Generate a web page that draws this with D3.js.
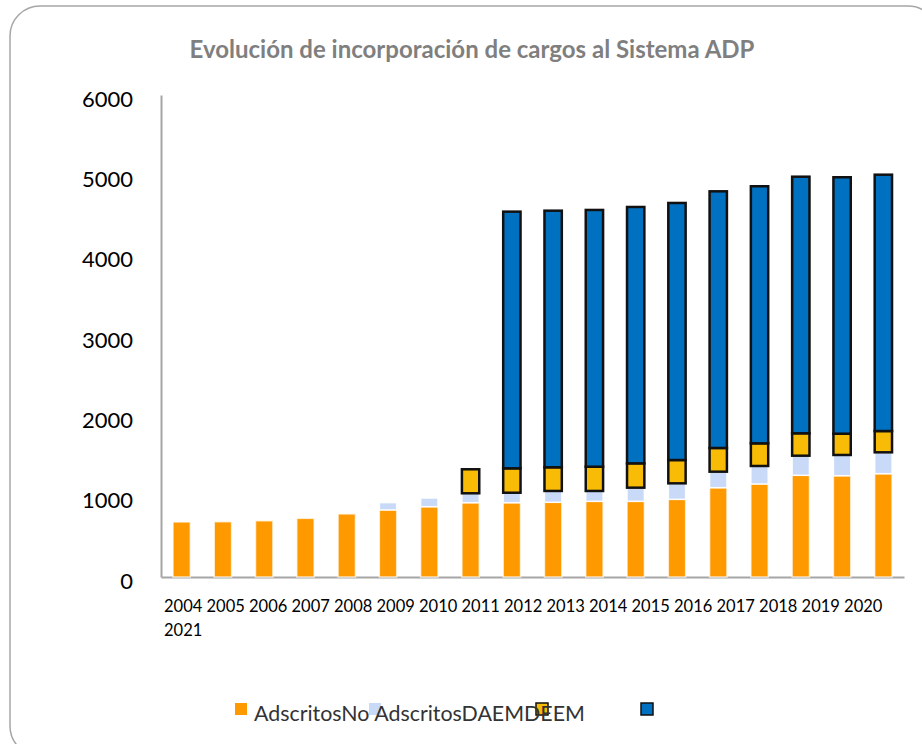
<!DOCTYPE html>
<html>
<head>
<meta charset="utf-8">
<script src="https://cdn.jsdelivr.net/npm/d3@7"></script>
<style>
  body { margin: 0; background: #fff; }
  svg { display: block; font-family: Lato, "Open Sans", sans-serif; }
</style>
</head>
<body>
<svg id="chart" width="922" height="744"></svg>
<script>
// data
var years = ["2004", "2005", "2006", "2007", "2008", "2009", "2010", "2011", "2012",
  "2013", "2014", "2015", "2016", "2017", "2018", "2019", "2020", "2021"];
var seriesNames = ["Adscritos", "No Adscritos", "DAEM", "DEEM"];
var adscritos = [685, 688, 700, 730, 785, 835, 875, 925, 925, 930, 942, 942, 967, 1112, 1158, 1266, 1261, 1286];
var noAdscritos = [0, 0, 0, 0, 0, 91, 108, 117, 124, 141, 129, 170, 199, 199, 224, 244, 258, 266];
var daem = [0, 0, 0, 0, 0, 0, 0, 299, 304, 295, 302, 303, 290, 295, 282, 279, 265, 265];
var deem = [0, 0, 0, 0, 0, 0, 0, 0, 3195, 3194, 3196, 3191, 3200, 3195, 3200, 3194, 3192, 3191];
var yTicks = [0, 1000, 2000, 3000, 4000, 5000, 6000];

var colors = ["#ff9900", "#c9daf8", "#f9bc06", "#0070c0"];
var strokes = ["rgba(255,255,255,0.7)", "rgba(255,255,255,0.9)", "#111", "#111"];
var strokeW = [1.5, 1.5, 2.5, 2.5];

var margin = { top: 95, left: 161, right: 18, bottom: 167 },
  width = 922 - margin.left - margin.right,
  height = 744 - margin.top - margin.bottom;

var svg = d3.select("#chart");

// outer frame with rounded corners
svg.append("rect")
  .attr("x", 10).attr("y", 6)
  .attr("width", 928).attr("height", 750)
  .attr("rx", 30).attr("ry", 30)
  .attr("fill", "none")
  .attr("stroke", "#a6a6a6")
  .attr("stroke-width", 1.5);

svg.append("text")
  .attr("x", 472).attr("y", 58)
  .attr("text-anchor", "middle")
  .attr("font-size", "24px")
  .attr("font-weight", "bold")
  .attr("fill", "#7f7f7f")
  .text("Evolución de incorporación de cargos al Sistema ADP");

var table = years.map(function (y, i) {
  return { year: y, "Adscritos": adscritos[i], "No Adscritos": noAdscritos[i], "DAEM": daem[i], "DEEM": deem[i] };
});
var stacked = d3.stack().keys(seriesNames)(table);

var x = d3.scaleBand().domain(years).range([0, width]).paddingInner(0.58).paddingOuter(0.29);
var y = d3.scaleLinear().domain([0, 6000]).range([height, 0]);

var g = svg.append("g").attr("transform", "translate(" + margin.left + "," + margin.top + ")");

var yAxis = g.append("g")
  .call(d3.axisLeft(y).tickValues(yTicks).tickSize(0).tickPadding(28).tickFormat(d3.format("d")));
yAxis.select(".domain").attr("stroke", "#a6a6a6").attr("stroke-width", 2);
yAxis.selectAll("text")
  .attr("font-family", "Lato, sans-serif")
  .attr("font-size", "22px")
  .attr("fill", "#000")
  .attr("dy", "0.5em");

var xAxis = g.append("g")
  .attr("transform", "translate(0," + height + ")")
  .call(d3.axisBottom(x).tickSize(0).tickFormat(""));
xAxis.select(".domain").attr("stroke", "#a6a6a6").attr("stroke-width", 2);

g.selectAll("g.layer")
  .data(stacked)
  .enter()
  .append("g")
  .attr("class", "layer")
  .each(function (layer, k) {
    d3.select(this)
      .selectAll("rect")
      .data(layer.filter(function (d) { return d[1] - d[0] > 0; }))
      .enter()
      .append("rect")
      .attr("x", function (d) { return x(d.data.year); })
      .attr("y", function (d) { return y(d[1]); })
      .attr("width", x.bandwidth())
      .attr("height", function (d) { return y(d[0]) - y(d[1]); })
      .attr("fill", colors[k])
      .attr("stroke", strokes[k])
      .attr("stroke-width", strokeW[k]);
  });

// category labels come out as one wrapped run of text, like the original
var labelText = g.append("text")
  .attr("font-size", "16.5px")
  .attr("fill", "#000");
labelText.append("tspan")
  .attr("x", 3).attr("y", height + 35)
  .text(years.slice(0, years.length - 1).join(" "));
labelText.append("tspan")
  .attr("x", 3).attr("y", height + 59)
  .text(years[years.length - 1]);

// legend: swatches at their own spots, names running together
var legendX = [235, 369, 536, 641];
svg.selectAll("rect.swatch")
  .data(seriesNames)
  .enter()
  .append("rect")
  .attr("class", "swatch")
  .attr("x", function (d, i) { return legendX[i]; })
  .attr("y", 703)
  .attr("width", 12).attr("height", 12)
  .attr("fill", function (d, i) { return colors[i]; })
  .attr("stroke", function (d, i) { return i > 1 ? "#111" : "none"; })
  .attr("stroke-width", 1.5);

var legendText = svg.append("text")
  .attr("x", 254).attr("y", 721)
  .attr("font-size", "21.4px")
  .attr("fill", "#333");
legendText.selectAll("tspan")
  .data(seriesNames)
  .enter()
  .append("tspan")
  .text(function (d) { return d; });
</script>
</body>
</html>
